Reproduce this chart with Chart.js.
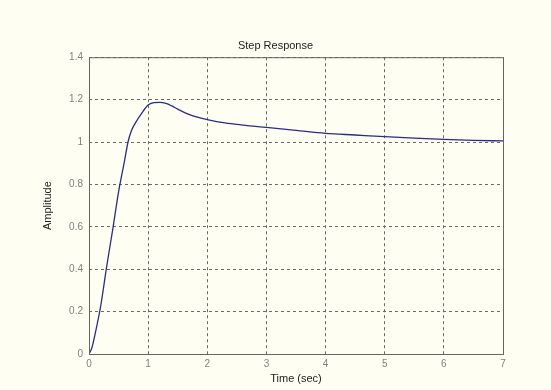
<!DOCTYPE html>
<html>
<head>
<meta charset="utf-8">
<script src="https://cdn.jsdelivr.net/npm/chart.js@4"></script>
<style>
  html, body { margin: 0; padding: 0; background: #fefef2; }
  canvas { display: block; }
</style>
</head>
<body>
<canvas id="chart" width="551" height="390"></canvas>
<script>
"use strict";

// step response
var times = [0, 0.05, 0.1, 0.2, 0.3, 0.4, 0.5, 0.6, 0.66, 0.72, 0.78, 0.89, 1.0, 1.1, 1.2, 1.3, 1.4, 1.5, 1.6, 1.7, 1.8, 2.0, 2.3, 2.6, 3.0, 3.5, 4.0, 4.5, 5.0, 5.5, 6.0, 6.5, 7.0];
var amplitude = [0, 0.03, 0.09, 0.23, 0.415, 0.585, 0.765, 0.91, 1.0, 1.055, 1.088, 1.135, 1.174, 1.186, 1.187, 1.182, 1.17, 1.155, 1.141, 1.129, 1.12, 1.106, 1.09, 1.08, 1.069, 1.055, 1.041, 1.033, 1.025, 1.018, 1.012, 1.008, 1.005];

var xTicks = [0, 1, 2, 3, 4, 5, 6, 7];
var yTicks = [0, 0.2, 0.4, 0.6, 0.8, 1, 1.2, 1.4];

var points = [];
for (var i = 0; i < times.length; i++) {
    points.push({ x: times[i], y: amplitude[i] });
}

var frame = {
    id: 'frame',
    beforeDraw: function (chart) {
        var ctx = chart.ctx;
        ctx.save();
        ctx.fillStyle = '#fefef2';
        ctx.fillRect(0, 0, chart.width, chart.height);
        ctx.restore();
    },
    afterDraw: function (chart) {
        var ctx = chart.ctx;
        var a = chart.chartArea;
        ctx.save();
        ctx.strokeStyle = '#66665c';
        ctx.lineWidth = 1;
        ctx.strokeRect(a.left + 0.5, a.top + 0.5, a.right - a.left, a.bottom - a.top);
        ctx.restore();
    }
};

var font = 'Liberation Sans, Arial';

var gridStyle = {
    color: '#6a6a6a',
    lineWidth: 1,
    drawTicks: false
};

const myChart = new Chart(document.getElementById('chart'), {
    type: 'line',
    data: {
        datasets: [{
            label: 'Step Response',
            data: points,
            borderColor: '#2b2b88',
            borderWidth: 1.3,
            pointRadius: 0,
            cubicInterpolationMode: 'monotone',
            fill: false
        }]
    },
    plugins: [frame],
    options: {
        responsive: false,
        animation: false,
        layout: { padding: 0 },
        plugins: {
            legend: { display: false },
            tooltip: { enabled: false },
            title: {
                display: true,
                text: 'Step Response',
                color: '#222222',
                font: { family: font, size: 11, weight: 'normal' },
                padding: { top: 39, bottom: 5 }
            }
        },
        scales: {
            x: {
                type: 'linear',
                min: 0,
                max: 7,
                afterBuildTicks: function (scale) {
                    scale.ticks = xTicks.map(function (v) { return { value: v }; });
                },
                afterFit: function (scale) { scale.height = 36; },
                ticks: {
                    color: '#808080',
                    padding: 4,
                    font: { family: font, size: 10 }
                },
                grid: gridStyle,
                border: { display: false, dash: [3, 3] },
                title: {
                    display: true,
                    text: 'Time (sec)',
                    color: '#222222',
                    font: { family: font, size: 11 },
                    padding: { top: 0, bottom: 4 }
                }
            },
            y: {
                min: 0,
                max: 1.4,
                afterBuildTicks: function (scale) {
                    scale.ticks = yTicks.map(function (v) { return { value: v }; });
                },
                afterFit: function (scale) { scale.width = 89; },
                ticks: {
                    color: '#808080',
                    padding: 6,
                    font: { family: font, size: 10 },
                    callback: function (v) { return String(Math.round(v * 10) / 10); }
                },
                grid: gridStyle,
                border: { display: false, dash: [3, 3] },
                title: {
                    display: true,
                    text: 'Amplitude',
                    color: '#222222',
                    font: { family: font, size: 11 },
                    padding: { top: 41, bottom: 0 }
                }
            },
            // empty right margin, keeps the title centred on the whole figure
            yRight: {
                position: 'right',
                min: 0,
                max: 1.4,
                afterFit: function (scale) { scale.width = 48; },
                ticks: { display: false },
                grid: { display: false, drawTicks: false },
                border: { display: false }
            }
        }
    }
});
</script>
</body>
</html>
